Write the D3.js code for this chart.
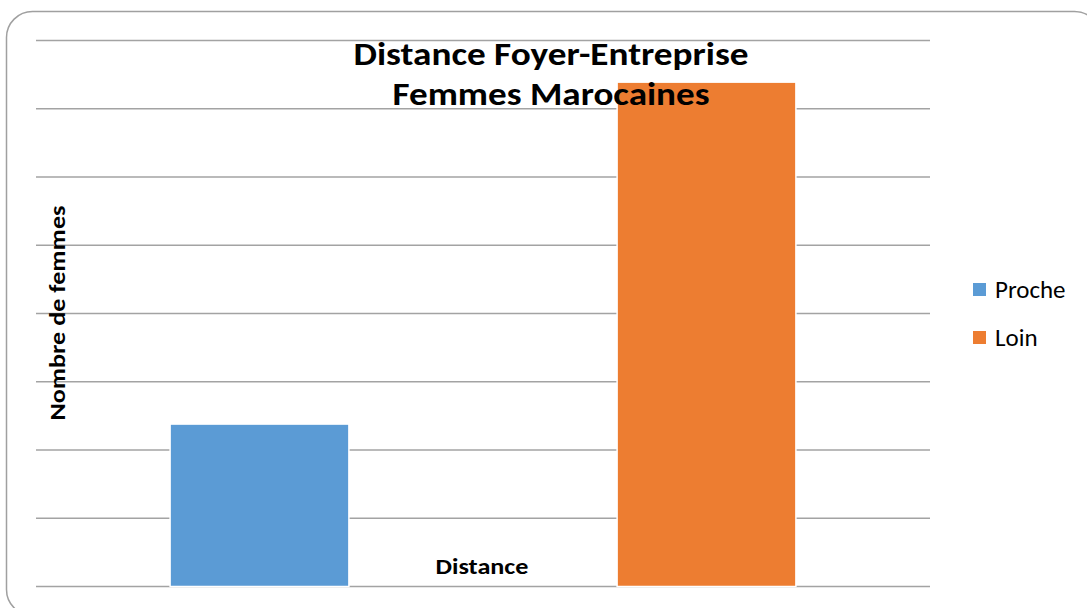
<!DOCTYPE html>
<html><head><meta charset="utf-8">
<script src="https://cdn.jsdelivr.net/npm/d3@7"></script>
<style>html,body{margin:0;padding:0;background:#fff;overflow:hidden}</style>
</head><body>
<svg id="c" width="1087" height="608"></svg>
<script>
const series = ["Proche", "Loin"];
const values = [23.8, 73.9];
const colors = ["#5B9BD5", "#ED7D31"];
const yTicks = [0, 10, 20, 30, 40, 50, 60, 70, 80];
const titleLines = ["Distance Foyer-Entreprise", "Femmes Marocaines"];
const xTitle = "Distance";
const yTitle = "Nombre de femmes";

const svg = d3.select("#c");
const font = "Carlito, 'Open Sans', 'Liberation Sans', sans-serif";

// outer rounded frame
svg.append("rect").attr("x", 6.5).attr("y", 11.5).attr("width", 1094).attr("height", 604)
  .attr("rx", 26).attr("fill", "#fff").attr("stroke", "#a0a0a0").attr("stroke-width", 1.5);

const x = d3.scaleBand().domain(series).range([36, 930]).paddingInner(0.6).paddingOuter(0.3);
const y = d3.scaleLinear().domain([0, 80]).range([586.5, 40.5]);

svg.append("g").selectAll("line").data(yTicks).join("line")
  .attr("x1", 36).attr("x2", 930)
  .attr("y1", d => y(d)).attr("y2", d => y(d))
  .attr("stroke", "#a3a3a3").attr("stroke-width", 1.6);

svg.append("g").selectAll("rect").data(series).join("rect")
  .attr("x", d => x(d)).attr("width", x.bandwidth())
  .attr("y", (d, i) => y(values[i])).attr("height", (d, i) => y(0) - y(values[i]))
  .attr("fill", (d, i) => colors[i]).attr("stroke", "#fff").attr("stroke-width", 1.5);

// title
const tw = [395, 317];
svg.append("g").selectAll("text").data(titleLines).join("text")
  .attr("x", 551).attr("y", (d, i) => 65 + i * 40)
  .attr("text-anchor", "middle").attr("font-family", font).attr("font-weight", "bold")
  .attr("font-size", 32).attr("fill", "#000")
  .attr("textLength", (d, i) => tw[i]).attr("lengthAdjust", "spacingAndGlyphs")
  .text(d => d);

// axis titles
svg.append("text").attr("x", 482).attr("y", 574).attr("text-anchor", "middle")
  .attr("font-family", font).attr("font-weight", "bold").attr("font-size", 22)
  .attr("textLength", 93).attr("lengthAdjust", "spacingAndGlyphs").text(xTitle);

svg.append("text").attr("transform", "translate(65,313) rotate(-90)").attr("text-anchor", "middle")
  .attr("font-family", font).attr("font-weight", "bold").attr("font-size", 23)
  .attr("textLength", 215).attr("lengthAdjust", "spacingAndGlyphs").text(yTitle);

// legend
const lg = svg.append("g").selectAll("g").data(series).join("g")
  .attr("transform", (d, i) => `translate(973,${283 + i * 48})`);
lg.append("rect").attr("width", 13).attr("height", 13).attr("fill", (d, i) => colors[i]);
lg.append("text").attr("x", 22).attr("y", 15).attr("font-family", font).attr("font-size", 25)
  .attr("fill", "#000").text(d => d);
</script>
</body></html>
